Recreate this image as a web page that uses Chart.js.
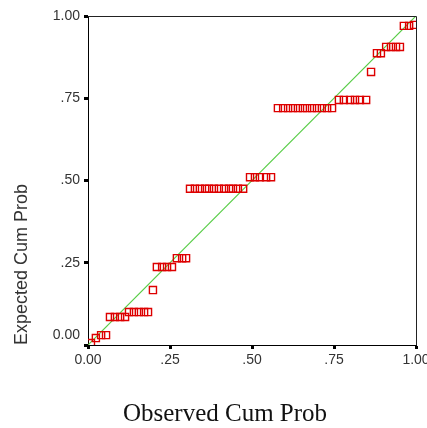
<!DOCTYPE html>
<html lang="en">
<head>
<meta charset="UTF-8">
<title>P-P Plot</title>
<script src="https://cdn.jsdelivr.net/npm/chart.js"></script>
<style>
  html, body { margin: 0; padding: 0; background: #fff; overflow: hidden; }
  .wrap { width: 427px; height: 428px; position: relative; }
</style>
</head>
<body>
<div class="wrap"><canvas id="ppChart"></canvas></div>
<script>
  // observed vs expected cumulative probabilities
  const obsCum = [
    0.009, 0.024, 0.040, 0.055,
    0.067, 0.082, 0.098, 0.113,
    0.125, 0.140, 0.155, 0.171, 0.183,
    0.198,
    0.210, 0.226, 0.241, 0.256,
    0.271, 0.287, 0.299,
    0.311, 0.326, 0.341, 0.357, 0.369, 0.384, 0.399, 0.415, 0.430, 0.442, 0.457, 0.473,
    0.494, 0.509, 0.524, 0.543, 0.558,
    0.579, 0.595, 0.610, 0.625, 0.640, 0.655, 0.668, 0.683, 0.698, 0.713, 0.729, 0.744,
    0.765, 0.780, 0.799, 0.814, 0.829, 0.848,
    0.863,
    0.881, 0.893,
    0.909, 0.924, 0.939, 0.951,
    0.963, 0.979,
    0.994
  ];
  const expCum = [
    0.006, 0.021, 0.030, 0.030,
    0.085, 0.085, 0.085, 0.085,
    0.100, 0.100, 0.100, 0.100, 0.100,
    0.167,
    0.237, 0.237, 0.237, 0.237,
    0.264, 0.264, 0.264,
    0.475, 0.475, 0.475, 0.475, 0.475, 0.475, 0.475, 0.475, 0.475, 0.475, 0.475, 0.475,
    0.510, 0.510, 0.510, 0.510, 0.510,
    0.720, 0.720, 0.720, 0.720, 0.720, 0.720, 0.720, 0.720, 0.720, 0.720, 0.720, 0.720,
    0.745, 0.745, 0.745, 0.745, 0.745, 0.745,
    0.830,
    0.887, 0.887,
    0.906, 0.906, 0.906, 0.906,
    0.970, 0.970,
    0.973
  ];
  const diagX = [0, 1];
  const diagY = [0, 1];
  const tickLabels = ['0.00', '.25', '.50', '.75', '1.00'];
  const xTitle = 'Observed Cum Prob';
  const yTitle = 'Expected Cum Prob';

  const pts = obsCum.map((x, i) => ({ x: x, y: expCum[i] }));
  const diag = diagX.map((x, i) => ({ x: x, y: diagY[i] }));

  // box round the plot + the serif x title, placed like the original
  const frame = {
    id: 'frame',
    afterDraw(chart) {
      const { ctx, chartArea: a } = chart;
      ctx.save();
      ctx.strokeStyle = '#222';
      ctx.lineWidth = 1;
      ctx.beginPath();
      ctx.moveTo(a.left, a.top + 0.5);
      ctx.lineTo(a.right + 0.5, a.top + 0.5);
      ctx.lineTo(a.right + 0.5, a.bottom);
      ctx.stroke();
      ctx.font = '25px "Liberation Serif", serif';
      ctx.fillStyle = '#111';
      ctx.textAlign = 'center';
      ctx.textBaseline = 'middle';
      ctx.fillText(xTitle, 225, 414);
      ctx.restore();
    }
  };

  const tickFont = { family: '"Liberation Sans", Arial, sans-serif', size: 14 };

  new Chart(document.getElementById('ppChart'), {
    type: 'scatter',
    data: {
      datasets: [
        {
          data: pts,
          pointStyle: 'rect',
          pointRadius: 5,
          pointBorderWidth: 1.4,
          borderColor: '#dd0000',
          backgroundColor: 'rgba(255,255,255,0)'
        },
        {
          type: 'line',
          data: diag,
          borderColor: '#55cc44',
          borderWidth: 1.2,
          pointRadius: 0,
          fill: false
        }
      ]
    },
    options: {
      responsive: true,
      maintainAspectRatio: false,
      animation: false,
      events: [],
      layout: { padding: { left: 0, right: 11, top: 16, bottom: 55 } },
      plugins: { legend: { display: false }, tooltip: { enabled: false } },
      scales: {
        x: {
          type: 'linear', min: 0, max: 1,
          ticks: {
            stepSize: 0.25, padding: 3, color: '#333', font: tickFont,
            maxRotation: 0,
            callback: v => tickLabels[Math.round(v * 4)]
          },
          grid: { drawOnChartArea: false, tickLength: 4, tickWidth: 3, tickColor: '#000' },
          border: { color: '#000', width: 1 },
          afterFit: s => { s.height = 28; s.paddingLeft = 0; s.paddingRight = 0; }
        },
        y: {
          type: 'linear', min: 0, max: 1,
          ticks: {
            stepSize: 0.25, padding: 4, color: '#333',
            font: { family: tickFont.family, size: 14, lineHeight: 1.4 },
            callback: v => {
              const i = Math.round(v * 4);
              return i === 0 ? [tickLabels[0], ''] : tickLabels[i];
            }
          },
          grid: { drawOnChartArea: false, tickLength: 4, tickWidth: 3, tickColor: '#000' },
          border: { color: '#000', width: 1 },
          title: {
            display: true, text: yTitle, align: 'start', color: '#333',
            font: { family: '"Liberation Sans", Arial, sans-serif', size: 18 },
            padding: { top: 11, bottom: 0 }
          },
          afterFit: s => { s.width = 88; s.paddingTop = 0; s.paddingBottom = 0; }
        }
      }
    },
    plugins: [frame]
  });
</script>
</body>
</html>
